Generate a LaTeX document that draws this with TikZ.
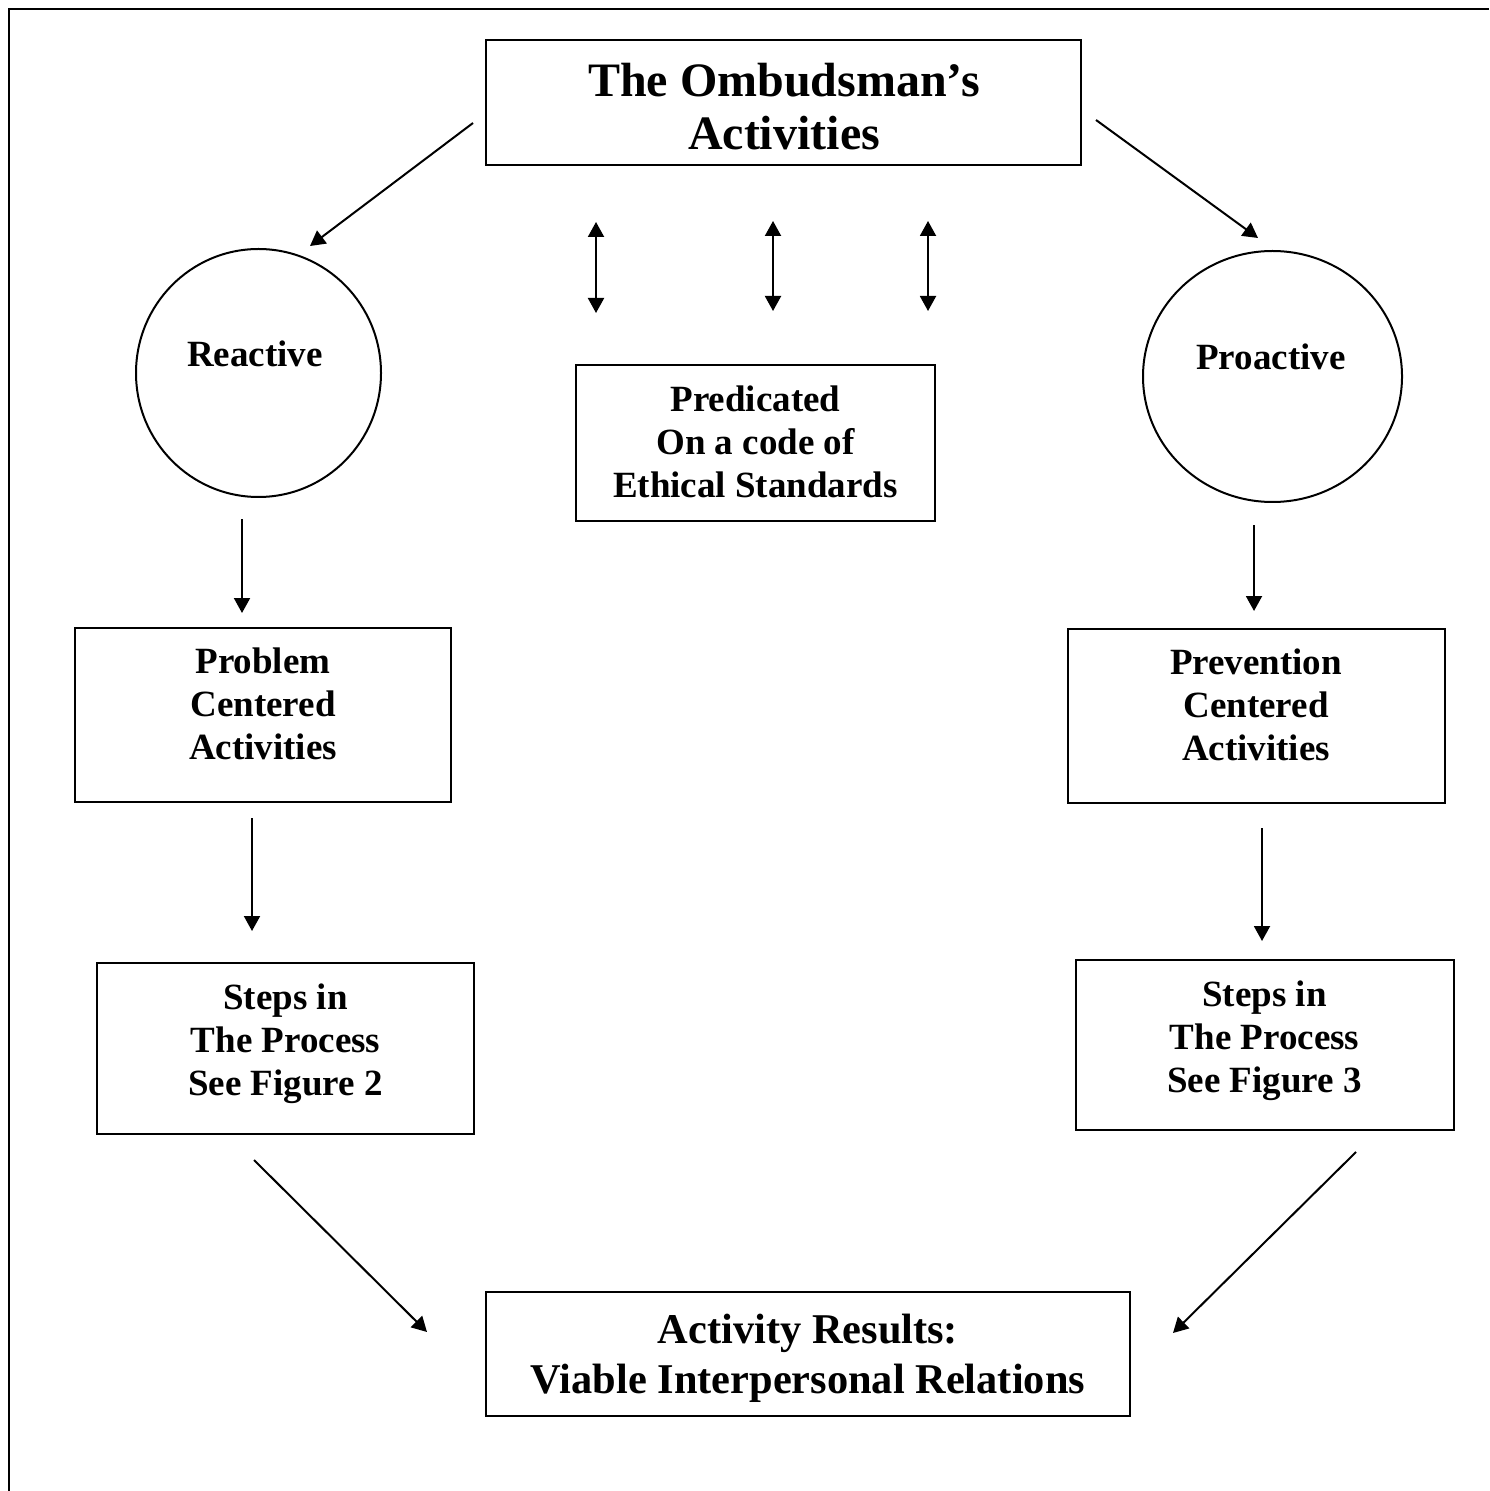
\documentclass[tikz,border=0pt]{standalone}
\usepackage{fontspec}
\setmainfont{Liberation Serif}
\usetikzlibrary{arrows.meta,shapes.geometric,calc}
\begin{document}
\begin{tikzpicture}[x=0.5pt,y=-0.5pt,
  box/.style={draw,line width=1pt,rectangle,inner sep=0pt},
  oval/.style={draw,line width=1pt,ellipse,inner sep=0pt},
  txt/.style={font=\bfseries\fontsize{18.5}{21.5}\selectfont,align=center,inner sep=0pt},
  bigtxt/.style={font=\bfseries\fontsize{24}{26.5}\selectfont,align=center,inner sep=0pt},
  restxt/.style={font=\bfseries\fontsize{21.2}{25}\selectfont,align=center,inner sep=0pt},
  arr/.style={line width=1pt,-{Triangle[length=7.5pt,width=8pt]}},
  darr/.style={line width=1pt,{Triangle[length=7.5pt,width=8pt]}-{Triangle[length=7.5pt,width=8pt]}}]
\useasboundingbox (0,0) rectangle (1489,1491);
% page frame (top and left only)
\draw[line width=1.2pt] (9,1491) -- (9,9) -- (1489,9);

% boxes
\node[box,minimum width=297.5pt,minimum height=62.5pt] (title) at (783.5,102.5) {};
\node[bigtxt] (titletxt) at (784,107) {The Ombudsman’s\\Activities};

\node[oval,minimum width=122.5pt,minimum height=124pt] (reac) at (258.5,373) {};
\node[txt] (reactxt) at (255,354) {Reactive};

\node[oval,minimum width=129.5pt,minimum height=125.5pt] (proac) at (1272.5,376.5) {};
\node[txt] (proactxt) at (1271,357) {Proactive};

\node[box,minimum width=179.5pt,minimum height=78pt] (pred) at (755.5,443) {};
\node[txt] (predtxt) at (755.5,442) {Predicated\\On a code of\\Ethical Standards};

\node[box,minimum width=188pt,minimum height=87pt] (prob) at (263,715) {};
\node[txt] (probtxt) at (263,704) {Problem\\Centered\\Activities};

\node[box,minimum width=188.5pt,minimum height=87pt] (prev) at (1256.5,716) {};
\node[txt] (prevtxt) at (1256,705) {Prevention\\Centered\\Activities};

\node[box,minimum width=188.5pt,minimum height=85.5pt] (steps2) at (285.5,1048.5) {};
\node[txt] (steps2txt) at (285.5,1044) {Steps in\\The Process\\See Figure 2};

\node[box,minimum width=189pt,minimum height=85pt] (steps3) at (1265,1045) {};
\node[txt] (steps3txt) at (1264.5,1041) {Steps in\\The Process\\See Figure 3};

\node[box,minimum width=322pt,minimum height=62pt] (res) at (808,1354) {};
\node[restxt] (restxt) at (808,1358) {Activity Results:\\Viable Interpersonal Relations};

% arrow end points
\coordinate (a1s) at (473,123);  \coordinate (a1e) at (310,246);
\coordinate (a2s) at (1096,120); \coordinate (a2e) at (1258,238);
\coordinate (d1s) at (596,222);  \coordinate (d1e) at (596,313);
\coordinate (d2s) at (773,221);  \coordinate (d2e) at (773,311);
\coordinate (d3s) at (928,221);  \coordinate (d3e) at (928,311);
\coordinate (a3s) at (242,519);  \coordinate (a3e) at (242,613);
\coordinate (a4s) at (1254,525); \coordinate (a4e) at (1254,611);
\coordinate (a5s) at (252,818);  \coordinate (a5e) at (252,931);
\coordinate (a6s) at (1262,828); \coordinate (a6e) at (1262,941);
\coordinate (a7s) at (254,1160); \coordinate (a7e) at (427,1332);
\coordinate (a8s) at (1356,1152);\coordinate (a8e) at (1173,1333);

\draw[arr] (a1s) -- (a1e);
\draw[arr] (a2s) -- (a2e);
\draw[darr] (d1s) -- (d1e);
\draw[darr] (d2s) -- (d2e);
\draw[darr] (d3s) -- (d3e);
\draw[arr] (a3s) -- (a3e);
\draw[arr] (a4s) -- (a4e);
\draw[arr] (a5s) -- (a5e);
\draw[arr] (a6s) -- (a6e);
\draw[arr] (a7s) -- (a7e);
\draw[arr] (a8s) -- (a8e);
\end{tikzpicture}
\end{document}
